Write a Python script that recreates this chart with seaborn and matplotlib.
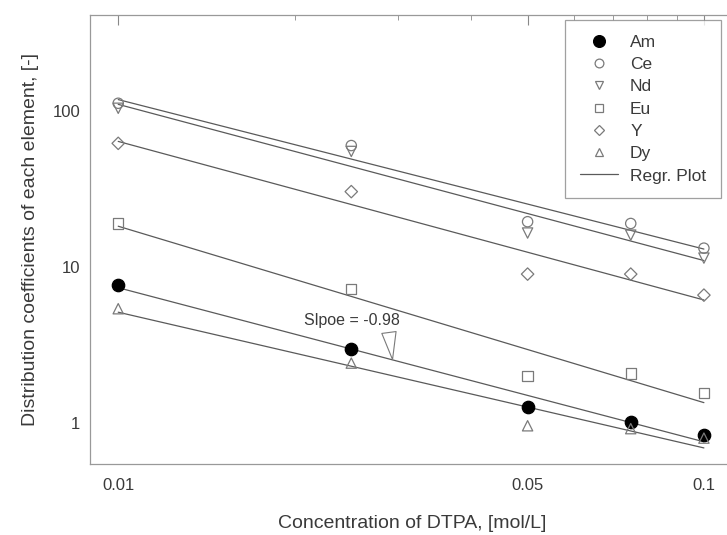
import numpy as np
import pandas as pd
import matplotlib
matplotlib.use("Agg")
import matplotlib.pyplot as plt
from matplotlib.lines import Line2D
from matplotlib.ticker import FixedLocator, NullFormatter
import seaborn as sns

# ---- data ----
conc = [0.01, 0.025, 0.05, 0.075, 0.1]
Am = [7.7, 3.0, 1.27, 1.02, 0.84]
Ce = [112, 60, 19.5, 19, 13.2]
Nd = [104, 55, 16.5, 16, 11.4]
Eu = [19, 7.2, 2.0, 2.08, 1.55]
Y = [62, 30.4, 9.0, 9.0, 6.6]
Dy = [5.4, 2.42, 0.96, 0.92, 0.80]
elements = ["Am", "Ce", "Nd", "Eu", "Y", "Dy"]
series = {"Am": Am, "Ce": Ce, "Nd": Nd, "Eu": Eu, "Y": Y, "Dy": Dy}
slope_text = "Slpoe = -0.98"
x_ticks = [0.01, 0.05, 0.1]
x_ticklabels = ["0.01", "0.05", "0.1"]
y_ticks = [1, 10, 100]
y_ticklabels = ["1", "10", "100"]

sns.set_style("white")
plt.rcParams['font.family'] = ['Liberation Sans', 'DejaVu Sans']

TXT = "#3a3a3a"
GREY = "#7a7a7a"
LINE = "#5a5a5a"

styles = {
    "Am": dict(marker="o", fc="black", ec="black", s=80),
    "Ce": dict(marker="o", fc="none", ec=GREY, s=55),
    "Nd": dict(marker="v", fc="none", ec=GREY, s=55),
    "Eu": dict(marker="s", fc="none", ec=GREY, s=55),
    "Y": dict(marker="D", fc="none", ec=GREY, s=40),
    "Dy": dict(marker="^", fc="none", ec=GREY, s=55),
}

fig = plt.figure(figsize=(7.27, 5.35), dpi=100)
W, H = 727, 535
ax = fig.add_axes([90 / W, (H - 464) / H, (735 - 90) / W, (464 - 15) / H])

xfit = np.array([min(conc), max(conc)])
for el in elements:
    df = pd.DataFrame({"x": conc, "y": series[el]})
    st = styles[el]
    # regression line (log-log)
    k, b = np.polyfit(np.log10(df["x"]), np.log10(df["y"]), 1)
    fit = pd.DataFrame({"x": xfit, "y": 10 ** (k * np.log10(xfit) + b)})
    sns.lineplot(data=fit, x="x", y="y", color=LINE, linewidth=0.9, ax=ax, zorder=2)
    sns.scatterplot(data=df, x="x", y="y", marker=st["marker"], s=st["s"],
                    facecolor=st["fc"], edgecolor=st["ec"], linewidth=0.9,
                    ax=ax, zorder=3)

ax.set_xscale("log")
ax.set_yscale("log")
ax.set_xlim(0.00895, 0.1130)
ax.set_ylim(0.546, 412)

ax.xaxis.set_major_locator(FixedLocator(x_ticks))
ax.set_xticklabels(x_ticklabels)
ax.xaxis.set_minor_locator(FixedLocator([0.02, 0.03, 0.04, 0.06, 0.07, 0.08, 0.09]))
ax.xaxis.set_minor_formatter(NullFormatter())
ax.yaxis.set_major_locator(FixedLocator(y_ticks))
ax.set_yticklabels(y_ticklabels)
ax.yaxis.set_minor_locator(FixedLocator([m * d for d in [0.1, 1, 10, 100] for m in range(2, 10)]))
ax.yaxis.set_minor_formatter(NullFormatter())

ax.tick_params(which="both", direction="in", top=True, right=False, colors="#888888",
               labelcolor=TXT, labelsize=12)
ax.tick_params(which="major", length=7, width=0.8)
ax.tick_params(which="minor", length=3.5, width=0.6)
ax.tick_params(axis="x", which="major", pad=10)
ax.tick_params(axis="y", which="major", pad=7)
for sp in ax.spines.values():
    sp.set_color("#999999")
    sp.set_linewidth(0.9)

ax.set_xlabel("Concentration of DTPA, [mol/L]", fontsize=14, color=TXT, labelpad=16)
ax.set_ylabel("Distribution coefficients of each element, [-]", fontsize=14, color=TXT, labelpad=10)

# annotation
ax.annotate(slope_text, xy=(0.0294, 2.55), xytext=(0.02506, 4.55),
            fontsize=11.5, color=TXT, ha="center", va="center",
            arrowprops=dict(arrowstyle="wedge,tail_width=0.9,shrink_factor=0.5",
                            fc="white", ec=GREY, lw=0.8, shrinkA=1, shrinkB=0,
                            relpos=(0.88, 0.0)))

handles = []
for el in elements:
    st = styles[el]
    handles.append(Line2D([], [], linestyle="none", marker=st["marker"],
                          markersize=np.sqrt(st["s"]) * (0.85 if el != "Am" else 0.95),
                          markerfacecolor=st["fc"], markeredgecolor=st["ec"],
                          markeredgewidth=0.9, label=el))
handles.append(Line2D([], [], color=LINE, linewidth=0.9, label="Regr. Plot"))
leg = ax.legend(handles=handles, loc="upper right",
                bbox_to_anchor=(721 / W, (H - 20) / H), bbox_transform=fig.transFigure,
                fontsize=12.5, frameon=True, fancybox=False, labelspacing=0.41,
                handlelength=2.2, handletextpad=0.7, borderpad=0.85, borderaxespad=0)
leg.get_frame().set_edgecolor("#888888")
leg.get_frame().set_linewidth(0.9)
for t in leg.get_texts():
    t.set_color(TXT)

fig.savefig("out.png", dpi=100)
